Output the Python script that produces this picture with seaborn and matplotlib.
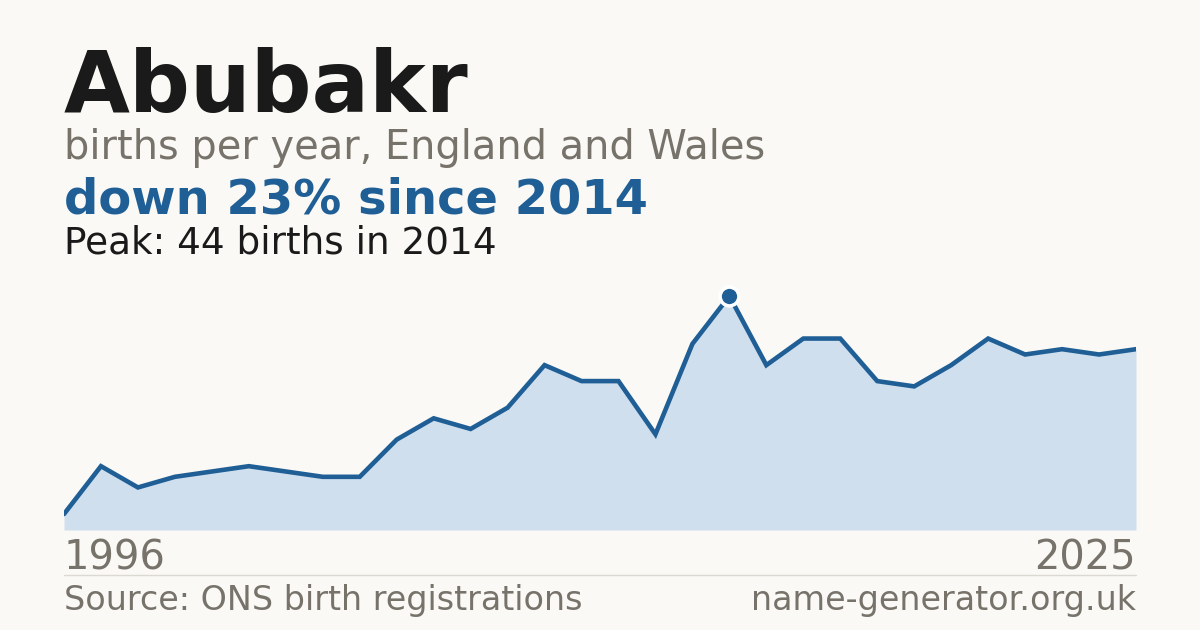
import pandas as pd
import matplotlib
matplotlib.use("Agg")
import matplotlib.pyplot as plt
import seaborn as sns

# DATA
years = list(range(1996, 2026))
births = [3, 12, 8, 10, 11, 12, 11, 10, 10, 17, 21, 19, 23, 31, 28, 28,
          18, 35, 44, 31, 36, 36, 28, 27, 31, 36, 33, 34, 33, 34]
name = "Abubakr"
subtitle = "births per year, England and Wales"
headline = "down 23% since 2014"
peak_note = "Peak: 44 births in 2014"
source = "Source: ONS birth registrations"
site = "name-generator.org.uk"

df = pd.DataFrame({"year": years, "births": births})
peak_row = df.loc[df["births"].idxmax()]

BG = "#faf9f5"
BLUE = "#1f5f96"
FILL = "#cfdfee"
GREY = "#77736b"
INK = "#1a1a1a"

sns.set_theme(style="white")
plt.rcParams["font.family"] = ["DejaVu Sans"]

W, H = 1200, 630
fig = plt.figure(figsize=(W / 100, H / 100), dpi=100, facecolor=BG)

# plot area in pixels: left 64, right 1136, top 280, bottom 530
ax = fig.add_axes([64 / W, (H - 530) / H, 1072 / W, 250 / H])
ax.set_facecolor(BG)

ax.fill_between(df["year"], df["births"], 0, color=FILL, linewidth=0, zorder=1)
sns.lineplot(data=df, x="year", y="births", ax=ax, color=BLUE,
             linewidth=3.3, zorder=2, solid_joinstyle="miter")
ax.plot([peak_row["year"]], [peak_row["births"]], marker="o", markersize=13.5,
        color=BLUE, markeredgecolor="white", markeredgewidth=2.5, zorder=3,
        clip_on=False)

ax.set_xlim(years[0], years[-1])
ax.set_ylim(0, max(births) * 250 / 234)
ax.set_axis_off()

# header texts
def px(y):
    return 1 - y / H

fig.text(64 / W, px(112), name, fontsize=61.4, fontweight="bold", color=INK, va="baseline")
fig.text(64 / W, px(159), subtitle, fontsize=28.7, color=GREY, va="baseline")
fig.text(64 / W, px(214), headline, fontsize=34.6, fontweight="bold", color=BLUE, va="baseline")
fig.text(64 / W, px(254), peak_note, fontsize=26.9, color=INK, va="baseline")

# footer
fig.text(64 / W, px(569), str(years[0]), fontsize=28.8, color=GREY, va="baseline")
fig.text(1136 / W, px(569), str(years[-1]), fontsize=28.8, color=GREY, va="baseline", ha="right")
fig.add_artist(plt.Line2D([64 / W, 1136 / W], [px(574.5), px(574.5)],
                          color="#dcd9d2", linewidth=1))
fig.text(64 / W, px(610), source, fontsize=24, color=GREY, va="baseline")
fig.text(1136 / W, px(610), site, fontsize=24, color=GREY, va="baseline", ha="right")

fig.savefig("out.png", dpi=100, facecolor=BG)
plt.close(fig)
